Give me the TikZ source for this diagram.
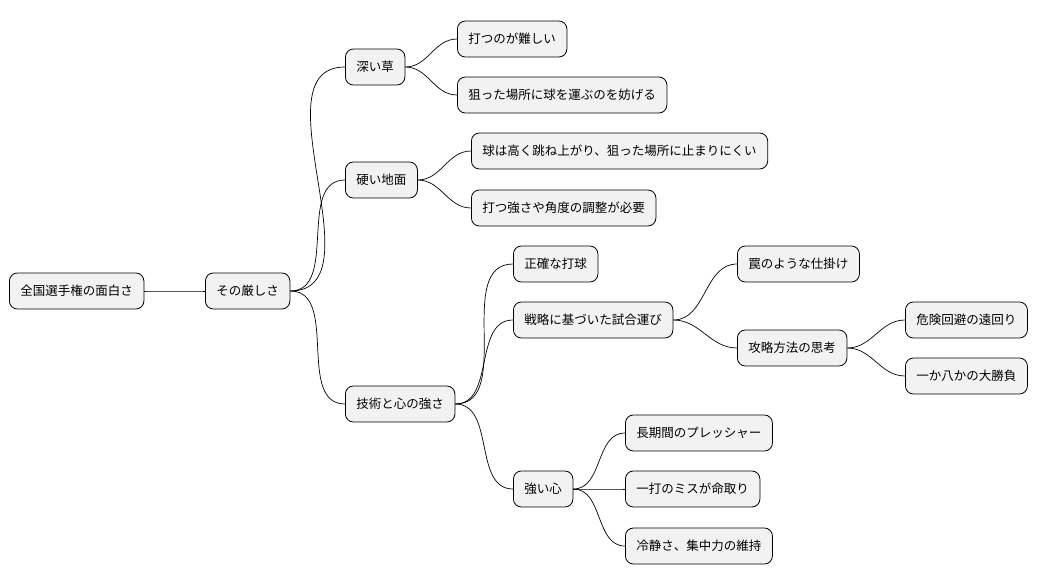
\documentclass[tikz,border=0pt]{standalone}
\usepackage{fontspec}
\setmainfont{Noto Sans CJK JP}
\begin{document}
\begin{tikzpicture}[x=1pt,y=-1pt,
    topic/.style={draw,rounded corners=8pt,fill=gray!10,line width=0.8pt,
      anchor=west,minimum height=36pt,inner xsep=11pt,font=\fontsize{12.5}{15}\selectfont},
    branch/.style={line width=0.7pt}]
    \useasboundingbox (0,0) rectangle (1048,583) ;
    % root and first level
    \node [topic] (root) at (9,291) {全国選手権の面白さ} ;
    \node [topic] (sev) at (205,291) {その厳しさ} ;
    \node [topic] (grass) at (345,67) {深い草} ;
    \node [topic] (ground) at (345,180) {硬い地面} ;
    \node [topic] (skill) at (345,404) {技術と心の強さ} ;
    % deep grass
    \node [topic] (g1) at (457,39) {打つのが難しい} ;
    \node [topic] (g2) at (457,95) {狙った場所に球を運ぶのを妨げる} ;
    % hard ground
    \node [topic] (h1) at (471,151) {球は高く跳ね上がり、狙った場所に止まりにくい} ;
    \node [topic] (h2) at (471,208) {打つ強さや角度の調整が必要} ;
    % skill and mind
    \node [topic] (s1) at (513,264) {正確な打球} ;
    \node [topic] (s2) at (513,320) {戦略に基づいた試合運び} ;
    \node [topic] (s3) at (513,489) {強い心} ;
    \node [topic] (t1) at (737,264) {罠のような仕掛け} ;
    \node [topic] (t2) at (737,348) {攻略方法の思考} ;
    \node [topic] (u1) at (905,320) {危険回避の遠回り} ;
    \node [topic] (u2) at (905,376) {一か八かの大勝負} ;
    \node [topic] (m1) at (625,433) {長期間のプレッシャー} ;
    \node [topic] (m2) at (625,489) {一打のミスが命取り} ;
    \node [topic] (m3) at (625,546) {冷静さ、集中力の維持} ;
    % connectors
    \foreach \a/\b in {root/sev,sev/grass,sev/ground,sev/skill,grass/g1,grass/g2,
      ground/h1,ground/h2,skill/s1,skill/s2,skill/s3,s2/t1,s2/t2,t2/u1,t2/u2,
      s3/m1,s3/m2,s3/m3} {
      \draw [branch] (\a.east) to [out=0,in=180] (\b.west) ;
    }
  \end{tikzpicture}
\end{document}
